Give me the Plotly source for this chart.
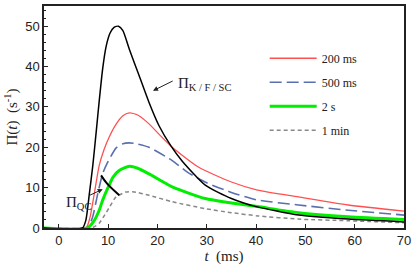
import plotly.graph_objects as go

# ---- data ----
t_kfsc = [-3, 4.8, 5.5, 6.2, 6.9, 7.6, 8.2, 8.9, 9.6, 10.4, 11.2, 12.1, 13, 14.3, 16.3, 18.3, 20.3, 22.7, 25, 29.7, 35, 40, 48.6, 58.7, 70]
y_kfsc = [0, 0, 2, 8.5, 15.5, 24, 31.5, 39.5, 45, 48.3, 49.7, 50, 48.9, 44.3, 37.7, 31.1, 25.4, 20.4, 16.6, 10.6, 7.3, 5.3, 3.2, 2.2, 1.5]

t_200ms = [-3, 5.5, 6.3, 7.2, 8.2, 9.2, 10.2, 11.5, 13, 14.3, 16, 18.3, 20.5, 23, 28.3, 35, 40.3, 48.6, 58.7, 70]
y_200ms = [0, 0, 2.5, 8.5, 15.5, 19.5, 22.5, 25.5, 27.8, 28.5, 28.0, 25.8, 23.0, 20.0, 15.1, 11.4, 9.4, 7.7, 5.7, 4.2]

t_500ms = [-3, 5.7, 6.8, 7.9, 8.9, 9.8, 11.6, 13, 14.3, 16, 18.3, 23, 26, 30, 35, 40, 48.6, 58.7, 70]
y_500ms = [0, 0, 2.5, 8.5, 13.5, 16.0, 19.8, 20.9, 21.1, 20.8, 20.0, 16.7, 13.9, 11.2, 8.8, 7.0, 5.7, 4.4, 3.2]

t_2s = [-3, 5.8, 7.0, 8.2, 8.9, 10.2, 11.0, 12.3, 14.3, 16, 18.3, 23, 29.7, 35, 40.3, 48.6, 58.7, 70]
y_2s = [0, 0, 1.5, 4.4, 6.9, 10.6, 12.6, 14.3, 15.3, 14.8, 13.4, 10.2, 7.3, 6.2, 5.3, 3.8, 2.8, 2.1]

t_1min = [-3, 6.5, 7.5, 8.2, 9.2, 10.2, 11.6, 13.6, 15, 18.3, 23, 29.7, 35, 40.3, 48.6, 58.7, 70]
y_1min = [0, 0, 0.5, 1.2, 3.0, 5.0, 7.7, 8.9, 9.0, 8.1, 6.5, 4.8, 3.8, 3.0, 2.2, 1.8, 1.3]

t_qc = [8.57, 9.8, 12.27]
y_qc = [13.05, 11.0, 8.13]

x_ticks = [0, 10, 20, 30, 40, 50, 60, 70]
y_ticks = [0, 10, 20, 30, 40, 50]

serif = "Liberation Serif, Times New Roman, serif"
sans = "Liberation Sans, Arial, sans-serif"
SM = 0.6

fig = go.Figure()

fig.add_trace(go.Scatter(x=t_200ms, y=y_200ms, mode="lines", name="200 ms",
                         line=dict(color="#ff5050", width=1.3, shape="spline", smoothing=SM),
                         legendgroup="a"))
fig.add_trace(go.Scatter(x=t_500ms, y=y_500ms, mode="lines", name="500 ms",
                         line=dict(color="#5a6fb0", width=1.6, dash="12px,5px", shape="spline", smoothing=SM),
                         legendgroup="b"))
fig.add_trace(go.Scatter(x=t_2s, y=y_2s, mode="lines", name="2 s",
                         line=dict(color="#00ee00", width=3, shape="spline", smoothing=SM),
                         legendgroup="c"))
fig.add_trace(go.Scatter(x=t_1min, y=y_1min, mode="lines", name="1 min",
                         line=dict(color="#888888", width=1.5, dash="4px,3px", shape="spline", smoothing=SM),
                         legendgroup="d"))
fig.add_trace(go.Scatter(x=t_kfsc, y=y_kfsc, mode="lines", showlegend=False,
                         line=dict(color="black", width=1.5, shape="spline", smoothing=SM)))
fig.add_trace(go.Scatter(x=t_qc, y=y_qc, mode="lines", showlegend=False,
                         line=dict(color="black", width=2, shape="spline")))

# annotations
fig.add_annotation(x=19.1, y=34.0, ax=23.4, ay=36.6, axref="x", ayref="y", xref="x", yref="y",
                   text="", showarrow=True, arrowhead=2, arrowsize=1, arrowwidth=1, arrowcolor="#222")
fig.add_annotation(x=23.8, y=35.6, xref="x", yref="y", xanchor="left", yanchor="middle",
                   text="Π<sub>K / F / SC</sub>", showarrow=False,
                   font=dict(family=serif, size=15, color="#222"))
fig.add_annotation(x=8.9, y=9.6, ax=5.9, ay=7.9, axref="x", ayref="y", xref="x", yref="y",
                   text="", showarrow=True, arrowhead=2, arrowsize=1, arrowwidth=1, arrowcolor="#222")
fig.add_annotation(x=1.0, y=6.3, xref="x", yref="y", xanchor="left", yanchor="middle",
                   text="Π<sub>QC</sub>", showarrow=False,
                   font=dict(family=serif, size=15, color="#222"))

fig.update_layout(
    width=415, height=267,
    margin=dict(l=44, r=8, t=4, b=39),
    paper_bgcolor="white", plot_bgcolor="white",
    showlegend=True,
    legend=dict(x=0.613, y=0.83, xanchor="left", yanchor="top",
                font=dict(family=serif, size=12, color="#222"),
                bgcolor="rgba(0,0,0,0)", traceorder="grouped", tracegroupgap=5,
                itemwidth=47),
    xaxis=dict(range=[-3, 70], tickvals=x_ticks, ticks="inside", ticklen=4, tickcolor="#222",
               showgrid=False, zeroline=False, showline=True, linecolor="#222", linewidth=1.5,
               mirror=True, tickfont=dict(family=sans, size=13, color="#222"),
               title=dict(text="<i>t</i>  (ms)", font=dict(family=serif, size=15, color="#222"), standoff=0)),
    yaxis=dict(range=[0, 55], tickvals=y_ticks, ticks="inside", ticklen=4, tickcolor="#222",
               minor=dict(ticks="inside", ticklen=2.5, dtick=2, tickcolor="#222"),
               showgrid=False, zeroline=False, showline=True, linecolor="#222", linewidth=1.5,
               mirror=True, tickfont=dict(family=sans, size=13, color="#222"),
               title=dict(text="Π(<i>t</i>)  (s<sup>-1</sup>)", font=dict(family=serif, size=15, color="#222"), standoff=4)),
)

fig.write_html("out.html", config={"displayModeBar": False},
               post_script="document.body.style.margin='0';document.body.style.overflow='hidden';")
